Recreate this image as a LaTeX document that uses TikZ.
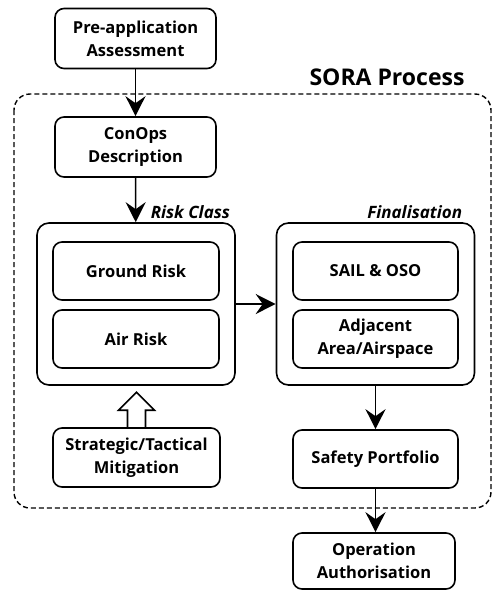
\documentclass[tikz,border=0pt]{standalone}
\usepackage{fontspec}
\setmainfont{Open Sans}
\usetikzlibrary{arrows.meta}
\tikzset{
	block/.style    = {draw, line width=1.6pt, rectangle, rounded corners=9pt,
		align=center, inner sep=2pt, font=\bfseries\fontsize{16.5}{23}\selectfont},
	group/.style    = {draw, line width=1.6pt, rectangle, rounded corners=12pt,
		minimum width=198, minimum height=162},
	tag/.style      = {font=\bfseries\itshape\fontsize{17}{20}\selectfont, inner sep=0pt},
	frame/.style    = {line width=1.4pt, dash pattern=on 5pt off 3pt, rounded corners=16pt}
}

\begin{document}
\begin{tikzpicture}[auto, x=1pt, y=-1pt, line width=1.6pt,
	>={Stealth[length=20pt,width=20pt,inset=7pt]}]
\useasboundingbox (0,0) rectangle (494,590);
% dashed SORA frame
\draw[frame] (14,94) rectangle (491,508);
\draw
node at (387,77) [font=\bfseries\fontsize{23}{26}\selectfont] (sora) {SORA Process}
node at (135.5,38.5) [block, minimum width=161, minimum height=60] (pre) {Pre-application\\Assessment}
node at (135.5,147) [block, minimum width=161, minimum height=60] (conops) {ConOps\\Description}
node at (136,304) [group] (risk) {}
node at (375.5,304) [group] (final) {}
node at (136,271) [block, minimum width=166, minimum height=58] (ground) {Ground Risk}
node at (136,339) [block, minimum width=166, minimum height=58] (air) {Air Risk}
node at (375.5,271) [block, minimum width=165, minimum height=58] (sail) {SAIL \& OSO}
node at (375.5,339) [block, minimum width=165, minimum height=58] (adj) {Adjacent\\Area/Airspace}
node at (136.5,457.5) [block, minimum width=167, minimum height=59] (mitig) {Strategic/Tactical\\Mitigation}
node at (375.5,459) [block, minimum width=165, minimum height=58] (safety) {Safety Portfolio}
node at (374,561) [block, minimum width=162, minimum height=56] (oper) {Operation\\Authorisation}
node at (150,212) [tag, anchor=west] (risklbl) {Risk Class}
node at (463,212) [tag, anchor=east] (finlbl) {Finalisation};

\draw[->] (pre) -- (conops);
\draw[->] (conops) -- (risk);
\draw[->] (risk) -- (final);
\draw[->] (final) -- (safety);
\draw[->] (safety) -- (safety |- oper.north);
% hollow arrow from mitigation
\draw[line width=1.6pt, line join=miter] (mitig.north) ++(-9,0) -- ++(0,-17) -- ++(-9,0)
	-- ++(18,-18) -- ++(18,18) -- ++(-9,0) -- ++(0,17);
\end{tikzpicture}
\end{document}
